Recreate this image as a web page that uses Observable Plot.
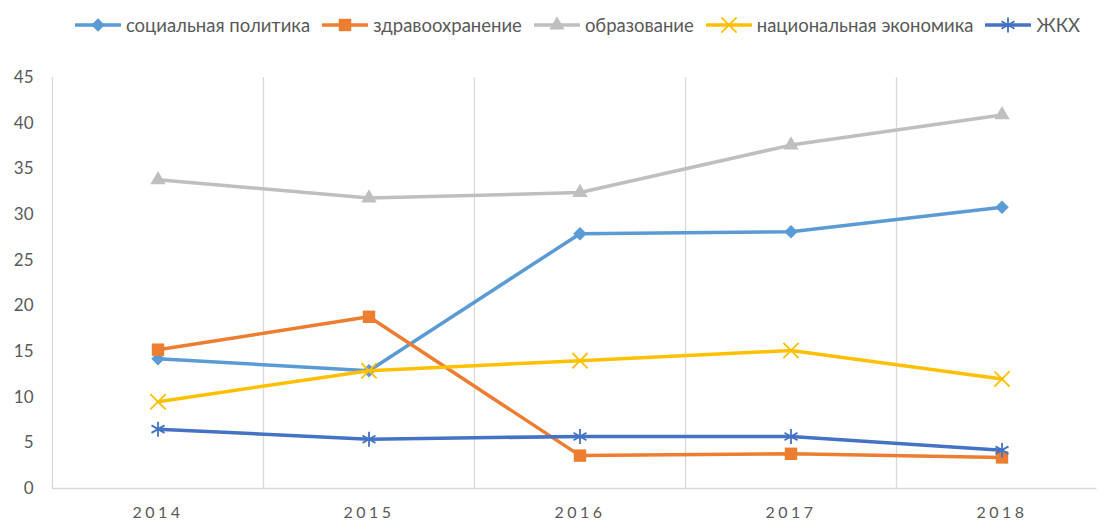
<!DOCTYPE html>
<html><head><meta charset="utf-8">
<script src="https://cdn.jsdelivr.net/npm/d3@7"></script>
<script src="https://cdn.jsdelivr.net/npm/@observablehq/plot@0.6"></script>
<style>
body{margin:0;background:#fff;font-family:Lato,"Open Sans",sans-serif;}
#wrap{position:relative;width:1099px;height:521px;}
#legend{position:absolute;top:14px;left:0;width:1099px;display:flex;justify-content:center;gap:12px;font-size:18.5px;color:#595959;padding-left:56px;box-sizing:border-box;}
#legend .it{display:flex;align-items:center;gap:5px;}
g[aria-label="x-axis tick label"] text{letter-spacing:3.5px;}
</style></head>
<body><div id="wrap"><div id="legend"></div><div id="chart"></div></div>
<script>
const years = ["2014","2015","2016","2017","2018"];
const seriesNames = ["социальная политика","здравоохранение","образование","национальная экономика","ЖКХ"];
const socialPolicy = [14.2, 12.9, 27.9, 28.1, 30.8];
const healthcare = [15.2, 18.8, 3.6, 3.8, 3.4];
const education = [33.8, 31.8, 32.4, 37.6, 40.9];
const economy = [9.5, 12.9, 14.0, 15.1, 12.0];
const housing = [6.5, 5.4, 5.7, 5.7, 4.2];
const colors = ["#5B9BD5","#ED7D31","#BFBFBF","#FFC000","#4472C4"];
const symbols = ["diamond2","square2","triangle2","times","asterisk"];
const yTicks = [0,5,10,15,20,25,30,35,40,45];

const allValues = [socialPolicy, healthcare, education, economy, housing];
const data = [];
seriesNames.forEach((s, si) => allValues[si].forEach((v, i) => data.push({series: s, i, year: years[i], value: v})));
const bounds = d3.range(-0.5, years.length, 1);

const stroked = new Set(["times","asterisk"]);
const markSize = {diamond2:6.1, square2:7.9, triangle2:7.3, times:7.0, asterisk:7.1};

const marks = [
  Plot.ruleX(bounds, {x: d => d, y1: 0, y2: 45, stroke: "#D9D9D9", strokeWidth: 1.3}),
  Plot.ruleY([0], {x1: -0.5, x2: 4.45, stroke: "#D9D9D9", strokeWidth: 1.5}),
  Plot.axisY({ticks: yTicks, tickSize: 0, tickPadding: 19, fontSize: 17, fill: "#595959", label: null}),
  Plot.axisX({ticks: d3.range(years.length), tickFormat: i => years[i], tickSize: 0, tickPadding: 18, fontSize: 16, fill: "#595959", label: null})
];
seriesNames.forEach((s, si) => {
  const d = data.filter(r => r.series === s);
  marks.push(Plot.line(d, {x: "i", y: "value", stroke: colors[si], strokeWidth: 3.5}));
  const sym = symbols[si];
  if (stroked.has(sym)) {
    marks.push(Plot.dot(d, {x: "i", y: "value", symbol: sym, r: markSize[sym], stroke: colors[si], strokeWidth: 1.8}));
  } else {
    marks.push(Plot.dot(d, {x: "i", y: "value", symbol: sym, r: markSize[sym], fill: colors[si]}));
  }
});

const chart = Plot.plot({
  width: 1099, height: 521,
  marginTop: 77, marginBottom: 33, marginLeft: 52, marginRight: 0,
  x: {type: "linear", domain: [-0.5, 4.5], range: [52, 1107]},
  y: {domain: [0, 45], range: [488, 77]},
  style: {fontFamily: "Lato, 'Open Sans', sans-serif", background: "#fff"},
  marks
});
document.getElementById("chart").appendChild(chart);

const legend = d3.select("#legend");
const symMap = {diamond2: d3.symbolDiamond2, square2: d3.symbolSquare2, triangle2: d3.symbolTriangle2, times: d3.symbolTimes, asterisk: d3.symbolAsterisk};
seriesNames.forEach((s, si) => {
  const it = legend.append("div").attr("class", "it");
  const svg = it.append("svg").attr("width", 46).attr("height", 20);
  svg.append("line").attr("x1", 1).attr("x2", 45).attr("y1", 10).attr("y2", 10).attr("stroke", colors[si]).attr("stroke-width", 3.5).attr("stroke-linecap","round");
  const sym = symbols[si];
  const r = markSize[sym];
  const p = svg.append("path").attr("transform", "translate(23,10)").attr("d", d3.symbol(symMap[sym], Math.PI * r * r)());
  if (stroked.has(sym)) p.attr("fill", "none").attr("stroke", colors[si]).attr("stroke-width", 1.8);
  else p.attr("fill", colors[si]);
  it.append("span").text(s);
});
</script></body></html>
